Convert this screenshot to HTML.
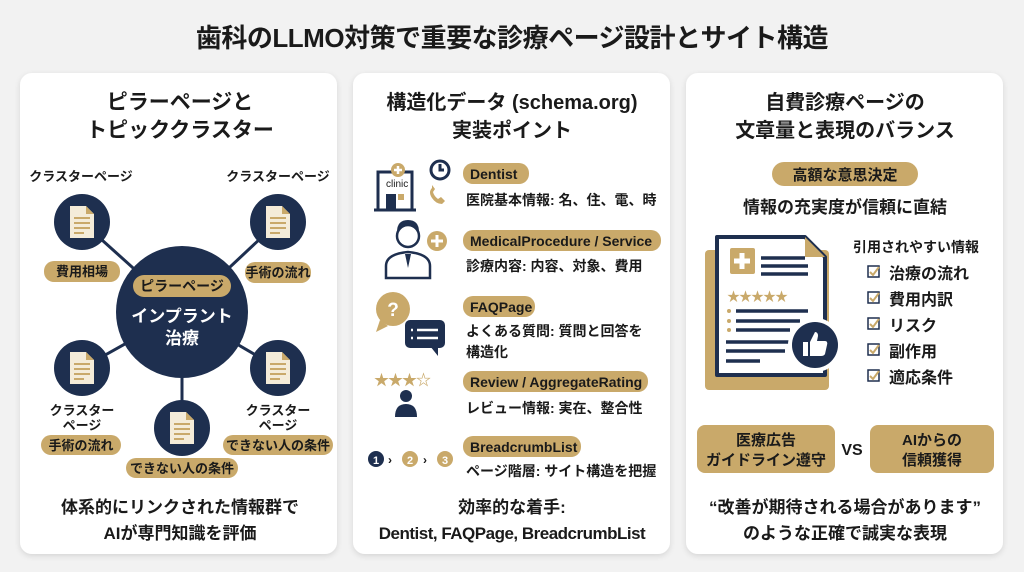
<!DOCTYPE html>
<html><head><meta charset="utf-8"><style>
html,body{margin:0;padding:0;background:#f2f2f2;}
svg{display:block}
text{font-family:"Liberation Sans","Noto Sans CJK JP",sans-serif;font-weight:bold;fill:#1a1a1a;}
.w{fill:#fff}
</style></head><body>
<svg width="1024" height="572" viewBox="0 0 1024 572" xmlns="http://www.w3.org/2000/svg">
<defs>
<filter id="sh" x="-5%" y="-5%" width="110%" height="110%"><feDropShadow dx="0" dy="2" stdDeviation="3" flood-color="#000" flood-opacity="0.12"/></filter>
<g id="doc">
<circle r="28" fill="#1e2f4f"/>
<path d="M-12,-16 h16 l8,8 v24 h-24 z" fill="#f4ecd9"/>
<path d="M4,-16 v8 h8 z" fill="#c9a96a"/>
<rect x="-8" y="-5" width="16" height="2" fill="#c9a96a"/><rect x="-8" y="0" width="16" height="2" fill="#c9a96a"/><rect x="-8" y="5" width="16" height="2" fill="#c9a96a"/><rect x="-8" y="10" width="10" height="2" fill="#c9a96a"/>
</g>
</defs>
<rect width="1024" height="572" fill="#f2f2f2"/>
<text x="512" y="47" text-anchor="middle" font-size="26" style="letter-spacing:-0.5px">歯科のLLMO対策で重要な診療ページ設計とサイト構造</text>

<rect x="20" y="73" width="317" height="481" rx="12" fill="#fff" filter="url(#sh)"/>
<rect x="353" y="73" width="317" height="481" rx="12" fill="#fff" filter="url(#sh)"/>
<rect x="686" y="73" width="317" height="481" rx="12" fill="#fff" filter="url(#sh)"/>

<!-- Left panel -->
<text x="180" y="109" text-anchor="middle" font-size="21">ピラーページと</text>
<text x="180" y="137" text-anchor="middle" font-size="21">トピッククラスター</text>
<text x="81" y="181" text-anchor="middle" font-size="13">クラスターページ</text>
<text x="278" y="181" text-anchor="middle" font-size="13">クラスターページ</text>
<g stroke="#1e2f4f" stroke-width="3">
<line x1="82" y1="222" x2="182" y2="312"/><line x1="278" y1="222" x2="182" y2="312"/>
<line x1="82" y1="368" x2="182" y2="312"/><line x1="278" y1="368" x2="182" y2="312"/>
<line x1="182" y1="428" x2="182" y2="312"/>
</g>
<use href="#doc" x="82" y="222"/><use href="#doc" x="278" y="222"/>
<use href="#doc" x="82" y="368"/><use href="#doc" x="278" y="368"/><use href="#doc" x="182" y="428"/>
<circle cx="182" cy="312" r="66" fill="#1e2f4f"/>
<rect x="133" y="275" width="98" height="22" rx="11" fill="#c9a96a"/>
<text x="182" y="291" text-anchor="middle" font-size="14">ピラーページ</text>
<text x="182" y="322" text-anchor="middle" font-size="17" class="w">インプラント</text>
<text x="182" y="344" text-anchor="middle" font-size="17" class="w">治療</text>
<rect x="44" y="261" width="76" height="21" rx="10" fill="#c9a96a"/>
<text x="82" y="276" text-anchor="middle" font-size="13">費用相場</text>
<rect x="245" y="262" width="66" height="21" rx="10" fill="#c9a96a"/>
<text x="278" y="277" text-anchor="middle" font-size="13">手術の流れ</text>
<text x="82" y="415" text-anchor="middle" font-size="13">クラスター</text>
<text x="82" y="430" text-anchor="middle" font-size="13">ページ</text>
<rect x="41" y="435" width="80" height="20" rx="10" fill="#c9a96a"/>
<text x="81" y="450" text-anchor="middle" font-size="13">手術の流れ</text>
<text x="278" y="415" text-anchor="middle" font-size="13">クラスター</text>
<text x="278" y="430" text-anchor="middle" font-size="13">ページ</text>
<rect x="223" y="435" width="110" height="20" rx="10" fill="#c9a96a"/>
<text x="278" y="450" text-anchor="middle" font-size="13">できない人の条件</text>
<rect x="126" y="458" width="112" height="20" rx="10" fill="#c9a96a"/>
<text x="182" y="473" text-anchor="middle" font-size="13">できない人の条件</text>
<text x="180" y="513" text-anchor="middle" font-size="17">体系的にリンクされた情報群で</text>
<text x="180" y="539" text-anchor="middle" font-size="17">AIが専門知識を評価</text>

<!-- Middle panel -->
<text x="512" y="109" text-anchor="middle" font-size="20">構造化データ (schema.org)</text>
<text x="512" y="137" text-anchor="middle" font-size="20">実装ポイント</text>
<!-- clinic icon -->
<g fill="none" stroke="#1e2f4f" stroke-width="3">
<path d="M378,210 V172 h14 M404,172 h8 v38"/><line x1="374" y1="210" x2="416" y2="210"/>
<circle cx="440" cy="170" r="9"/><path d="M440,164 v6 h4"/>
</g>
<circle cx="398" cy="170" r="7" fill="#c9a96a"/>
<path d="M398,166 v8 M394,170 h8" stroke="#fff" stroke-width="2.5"/>
<text x="386" y="187" font-size="10" style="font-weight:normal">clinic</text>
<rect x="386" y="194" width="10" height="16" fill="#1e2f4f"/><rect x="398" y="194" width="6" height="6" fill="#c9a96a"/>
<path d="M432,188 q-4,4 0,10 q4,6 10,6 l3,-3 -4,-4 -3,2 q-4,-3 -5,-7 l2,-3 -3,-4z" fill="#c9a96a"/>
<rect x="463" y="163" width="66" height="21" rx="10" fill="#c9a96a"/>
<text x="470" y="179" font-size="14">Dentist</text>
<text x="466" y="205" font-size="14">医院基本情報: 名、住、電、時</text>
<!-- doctor icon -->
<g fill="none" stroke="#1e2f4f" stroke-width="2.5">
<circle cx="408" cy="236" r="11"/><path d="M386,278 v-12 q0,-12 22,-14 q22,2 22,14 v12 z"/>
</g>
<path d="M397,232 q11,-12 22,0 q0,-12 -11,-12 q-11,0 -11,12z" fill="#1e2f4f"/>
<path d="M405,254 l3,14 3,-14z" fill="#1e2f4f"/>
<circle cx="437" cy="241" r="10" fill="#c9a96a"/><path d="M437,235 v12 M431,241 h12" stroke="#fff" stroke-width="3"/>
<rect x="463" y="230" width="198" height="21" rx="10" fill="#c9a96a"/>
<text x="470" y="246" font-size="14">MedicalProcedure / Service</text>
<text x="466" y="271" font-size="14">診療内容: 内容、対象、費用</text>
<!-- FAQ icon -->
<circle cx="393" cy="309" r="17" fill="#c9a96a"/><path d="M380,320 l-4,12 12,-6z" fill="#c9a96a"/>
<text x="393" y="316" text-anchor="middle" font-size="19" class="w">?</text>
<rect x="405" y="320" width="40" height="28" rx="5" fill="#1e2f4f"/><path d="M430,346 l8,10 0,-10z" fill="#1e2f4f"/>
<g stroke="#fff" stroke-width="2.5"><line x1="411" y1="330" x2="413" y2="330"/><line x1="417" y1="330" x2="438" y2="330"/><line x1="411" y1="338" x2="413" y2="338"/><line x1="417" y1="338" x2="438" y2="338"/></g>
<rect x="463" y="296" width="72" height="21" rx="10" fill="#c9a96a"/>
<text x="470" y="312" font-size="14">FAQPage</text>
<text x="466" y="336" font-size="14">よくある質問: 質問と回答を</text>
<text x="466" y="357" font-size="14">構造化</text>
<!-- review -->
<text x="374" y="385" font-size="15" fill="#c9a96a" style="fill:#c9a96a;letter-spacing:-1px">★★★☆</text>
<circle cx="406" cy="396" r="6" fill="#1e2f4f"/><path d="M395,417 q0,-13 11,-13 q11,0 11,13z" fill="#1e2f4f"/>
<rect x="463" y="371" width="185" height="21" rx="10" fill="#c9a96a"/>
<text x="470" y="387" font-size="14">Review / AggregateRating</text>
<text x="466" y="413" font-size="14">レビュー情報: 実在、整合性</text>
<!-- breadcrumb -->
<circle cx="376" cy="459" r="8" fill="#1e2f4f"/><text x="376" y="464" text-anchor="middle" font-size="11" class="w">1</text>
<text x="388" y="464" font-size="12">›</text>
<circle cx="410" cy="459" r="8" fill="#c9a96a"/><text x="410" y="464" text-anchor="middle" font-size="11" class="w">2</text>
<text x="423" y="464" font-size="12">›</text>
<circle cx="445" cy="459" r="8" fill="#c9a96a"/><text x="445" y="464" text-anchor="middle" font-size="11" class="w">3</text>
<rect x="463" y="436" width="118" height="21" rx="10" fill="#c9a96a"/>
<text x="470" y="452" font-size="14">BreadcrumbList</text>
<text x="466" y="476" font-size="14">ページ階層: サイト構造を把握</text>
<text x="512" y="513" text-anchor="middle" font-size="17">効率的な着手:</text>
<text x="512" y="539" text-anchor="middle" font-size="17" style="letter-spacing:-0.5px">Dentist, FAQPage, BreadcrumbList</text>

<!-- Right panel -->
<text x="845" y="109" text-anchor="middle" font-size="20">自費診療ページの</text>
<text x="845" y="137" text-anchor="middle" font-size="20">文章量と表現のバランス</text>
<rect x="772" y="162" width="146" height="24" rx="12" fill="#c9a96a"/>
<text x="845" y="180" text-anchor="middle" font-size="15">高額な意思決定</text>
<text x="845" y="213" text-anchor="middle" font-size="17">情報の充実度が信頼に直結</text>
<!-- doc icon -->
<rect x="705" y="250" width="124" height="140" rx="4" fill="#c9a96a"/>
<path d="M717,237 h88 l20,20 v118 h-108 z" fill="#fff" stroke="#1e2f4f" stroke-width="4" stroke-linejoin="round"/>
<path d="M805,237 v20 h20z" fill="#c9a96a"/>
<rect x="730" y="248" width="25" height="26" rx="2" fill="#c9a96a"/>
<path d="M742,253 v16 M734,261 h16" stroke="#fff" stroke-width="5"/>
<g stroke="#1e2f4f" stroke-width="3.5"><line x1="761" y1="258" x2="805" y2="258"/><line x1="761" y1="266" x2="808" y2="266"/><line x1="761" y1="274" x2="808" y2="274"/>
<line x1="736" y1="311" x2="808" y2="311"/><line x1="736" y1="321" x2="800" y2="321"/><line x1="736" y1="330" x2="790" y2="330"/>
<line x1="726" y1="342" x2="790" y2="342"/><line x1="726" y1="351" x2="785" y2="351"/><line x1="726" y1="361" x2="760" y2="361"/></g>
<text x="727" y="301" font-size="13" style="fill:#c9a96a;letter-spacing:-1px">★★★★★</text>
<g fill="#c9a96a"><circle cx="729" cy="311" r="2"/><circle cx="729" cy="321" r="2"/><circle cx="729" cy="330" r="2"/></g>
<circle cx="815" cy="345" r="27" fill="#fff"/><circle cx="815" cy="345" r="23" fill="#1e2f4f"/>
<path d="M803,342 h5 v14 h-5z M810,342 l5,-10 q3,0 3,4 l-1,5 h8 q3,0 2,4 l-2,9 q-1,2 -4,2 h-11z" fill="#fff"/>
<text x="853" y="252" font-size="14">引用されやすい情報</text>
<g fill="none" stroke="#1e2f4f" stroke-width="1.5">
<rect x="868" y="266" width="11" height="11"/><rect x="868" y="292" width="11" height="11"/><rect x="868" y="318" width="11" height="11"/><rect x="868" y="344" width="11" height="11"/><rect x="868" y="370" width="11" height="11"/></g>
<g fill="none" stroke="#c9a96a" stroke-width="2"><path d="M870,272 l3,3 6,-8"/><path d="M870,298 l3,3 6,-8"/><path d="M870,324 l3,3 6,-8"/><path d="M870,350 l3,3 6,-8"/><path d="M870,376 l3,3 6,-8"/></g>
<text x="889" y="279" font-size="16">治療の流れ</text>
<text x="889" y="305" font-size="16">費用内訳</text>
<text x="889" y="331" font-size="16">リスク</text>
<text x="889" y="357" font-size="16">副作用</text>
<text x="889" y="383" font-size="16">適応条件</text>
<rect x="697" y="425" width="138" height="48" rx="8" fill="#c9a96a"/>
<text x="766" y="445" text-anchor="middle" font-size="15">医療広告</text>
<text x="766" y="465" text-anchor="middle" font-size="15">ガイドライン遵守</text>
<text x="852" y="455" text-anchor="middle" font-size="16">VS</text>
<rect x="870" y="425" width="124" height="48" rx="8" fill="#c9a96a"/>
<text x="932" y="445" text-anchor="middle" font-size="15">AIからの</text>
<text x="932" y="465" text-anchor="middle" font-size="15">信頼獲得</text>
<text x="845" y="513" text-anchor="middle" font-size="17">“改善が期待される場合があります”</text>
<text x="845" y="539" text-anchor="middle" font-size="17">のような正確で誠実な表現</text>
</svg>
</body></html>
